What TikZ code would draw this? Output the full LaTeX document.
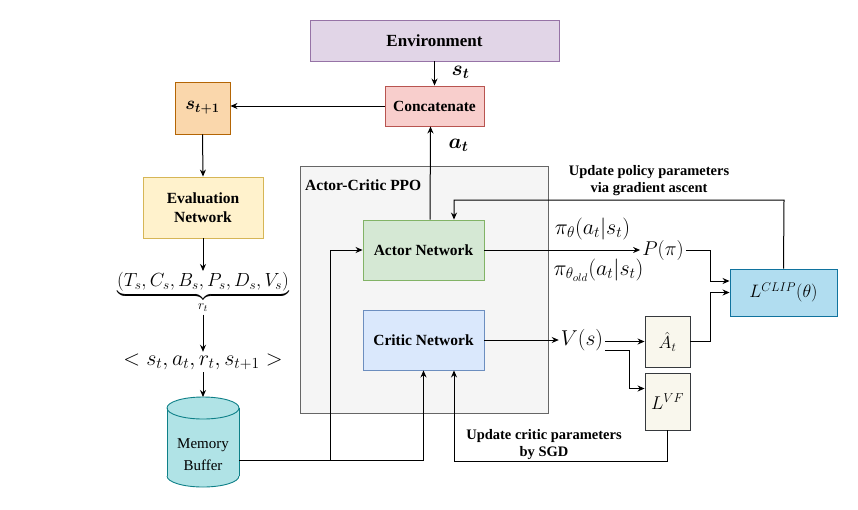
\RequirePackage{fix-cm}
\documentclass[tikz,border=0pt]{standalone}
\usepackage{amsmath}
\usepackage[no-math]{fontspec}
\setmainfont{Liberation Serif}
\usetikzlibrary{arrows.meta,calc}
\definecolor{envfill}{HTML}{E1D5E7}\definecolor{envdraw}{HTML}{9673A6}
\definecolor{concfill}{HTML}{F8CECC}\definecolor{concdraw}{HTML}{B85450}
\definecolor{stfill}{HTML}{FAD7AC}\definecolor{stdraw}{HTML}{B46504}
\definecolor{evalfill}{HTML}{FFF2CC}\definecolor{evaldraw}{HTML}{D6B656}
\definecolor{mbfill}{HTML}{B0E3E6}\definecolor{mbdraw}{HTML}{0E8088}
\definecolor{ppofill}{HTML}{F5F5F5}\definecolor{ppodraw}{HTML}{666666}
\definecolor{actfill}{HTML}{D5E8D4}\definecolor{actdraw}{HTML}{82B366}
\definecolor{crifill}{HTML}{DAE8FC}\definecolor{cridraw}{HTML}{6C8EBF}
\definecolor{lossfill}{HTML}{F9F7ED}\definecolor{lossdraw}{HTML}{36393D}
\definecolor{clipfill}{HTML}{B1DDF0}\definecolor{clipdraw}{HTML}{10739E}
\newcommand{\mysizemath}{\fontsize{21.5}{25}\selectfont}
\newcommand{\myboxfont}{\bfseries\fontsize{15.5}{19}\selectfont}
\begin{document}
\begin{tikzpicture}[x=1pt,y=-1pt,
  box/.style={draw, line width=0.9pt, inner sep=2pt, align=center},
  arr/.style={-{Stealth[length=7pt,width=6pt]}, line width=1pt},
  mathlbl/.style={inner sep=2pt, font=\mysizemath}]
\useasboundingbox (0,0) rectangle (858,509);
% container
\node[draw=ppodraw, fill=ppofill, line width=0.9pt, minimum width=248pt, minimum height=247pt, inner sep=0pt] (ppo) at (424,289.5) {};
\node[anchor=west, inner sep=0pt, font=\myboxfont] (ppolabel) at (305,185) {Actor-Critic PPO};
% boxes
\node[box, fill=envfill, draw=envdraw, minimum width=249pt, minimum height=41pt, font=\bfseries\fontsize{17}{20}\selectfont] (env) at (434.5,40.5) {Environment};
\node[box, fill=concfill, draw=concdraw, minimum width=99pt, minimum height=40pt, font=\myboxfont] (conc) at (434.5,106) {Concatenate};
\node[box, fill=stfill, draw=stdraw, minimum width=55pt, minimum height=52pt, font=\fontsize{18.5}{22}\selectfont] (st1) at (202.5,108) {$\boldsymbol{s_{t+1}}$};
\node[box, fill=evalfill, draw=evaldraw, minimum width=120pt, minimum height=61pt, font=\myboxfont] (eval) at (203,207.5) {Evaluation\\Network};
\node[anchor=north, inner sep=1pt, font=\fontsize{19}{22}\selectfont] (rt) at (203,271) {$\underbrace{(T_s, C_s, B_s, P_s, D_s, V_s)}_{r_t}$};
\node[inner sep=2pt, font=\fontsize{22}{26}\selectfont] (tuple) at (203,362) {$< s_t, a_t, r_t, s_{t+1} >$};
% memory buffer cylinder
\fill[mbfill] (167,408) rectangle (239,476);
\fill[mbfill] (203,408) ellipse [x radius=36pt, y radius=11pt];
\fill[mbfill] (203,476) ellipse [x radius=36pt, y radius=11pt];
\draw[mbdraw, line width=0.9pt] (203,408) ellipse [x radius=36pt, y radius=11pt];
\draw[mbdraw, line width=0.9pt] (167,408) -- (167,476) (239,408) -- (239,476);
\begin{scope}
\clip (160,476) rectangle (246,495);
\draw[mbdraw, line width=0.9pt] (203,476) ellipse [x radius=36pt, y radius=11pt];
\end{scope}
\node[align=center, inner sep=0pt, font=\fontsize{15}{22}\selectfont] (mb) at (203,455) {Memory\\Buffer};
\coordinate (mbtop) at (203,397);
\coordinate (mbout) at (239,460);
% networks
\node[box, fill=actfill, draw=actdraw, minimum width=121pt, minimum height=60pt, font=\myboxfont] (actor) at (423.5,250) {Actor Network};
\node[box, fill=crifill, draw=cridraw, minimum width=121pt, minimum height=60pt, font=\myboxfont] (critic) at (423.5,340) {Critic Network};
% math nodes
\node[inner sep=2pt, font=\fontsize{20}{24}\selectfont] (P) at (663,250) {$P(\pi)$};
\node[mathlbl] (V) at (582,340) {$V(s)$};
\node[box, fill=lossfill, draw=lossdraw, minimum width=45pt, minimum height=51pt, font=\fontsize{17.5}{20}\selectfont] (ahat) at (667.5,341.5) {$\hat{A}_t$};
\node[box, fill=lossfill, draw=lossdraw, minimum width=45pt, minimum height=57pt, font=\fontsize{18.5}{20}\selectfont] (lvf) at (667.5,401.5) {$L^{VF}$};
\node[box, fill=clipfill, draw=clipdraw, minimum width=107pt, minimum height=47pt, font=\fontsize{18}{21}\selectfont] (clip) at (783.5,292.5) {$L^{CLIP}(\theta)$};
% labels
\node[inner sep=2pt, font=\fontsize{21}{25}\selectfont] (lst) at (460.5,72) {$\boldsymbol{s_t}$};
\node[inner sep=2pt, font=\fontsize{21}{25}\selectfont] (lat) at (458.5,145) {$\boldsymbol{a_t}$};
\node[inner sep=2pt, font=\fontsize{22}{26}\selectfont] (lpi) at (592.5,229) {$\pi_\theta(a_t|s_t)$};
\node[inner sep=2pt, font=\fontsize{22}{26}\selectfont] (lpiold) at (598.5,270) {$\pi_{\theta_{old}}(a_t|s_t)$};
\node[align=center, inner sep=0pt, font=\bfseries\fontsize{14.5}{17}\selectfont] (upd1) at (649,181) {Update policy parameters\\via gradient ascent};
\node[align=center, inner sep=0pt, font=\bfseries\fontsize{14.5}{17}\selectfont] (upd2) at (544,445) {Update critic parameters\\by SGD};
% connectors
\draw[arr] (env.south) -- (conc.north);
\draw[arr] ([xshift=6.5pt]actor.north) -- ([xshift=-4pt]conc.south);
\draw[arr] (conc.west) -- (conc.west -| st1.east);
\draw[arr] (st1.south) -- (eval.north);
\draw[arr] (eval.south) -- (rt.north);
\draw[arr] (rt.south) -- (tuple.north);
\draw[arr] (tuple.south) -- (mbtop);
\draw[arr] (mbout) -- (330,460) |- (actor.west);
\draw[arr] (mbout) -| (critic.south);
\draw[arr] (actor.east) -- (P.west);
\draw[arr] (critic.east) -- (V.west);
\draw[arr] (V.east |- ahat.west) -- (ahat.west);
\draw[arr] ([yshift=-10pt]V.east) -- (629,350) |- ([yshift=13pt]lvf.west);
\draw[arr] (P.east) -- (710,250) |- ([yshift=11.5pt]clip.west);
\draw[arr] (ahat.east) -- (710,341.5) |- (clip.west);
\draw[arr] (clip.north) -- (784,200) -| ([xshift=30.5pt]actor.north);
\draw[arr] (lvf.south) -- (667.5,461) -| ([xshift=30.5pt]critic.south);
\end{tikzpicture}
\end{document}
